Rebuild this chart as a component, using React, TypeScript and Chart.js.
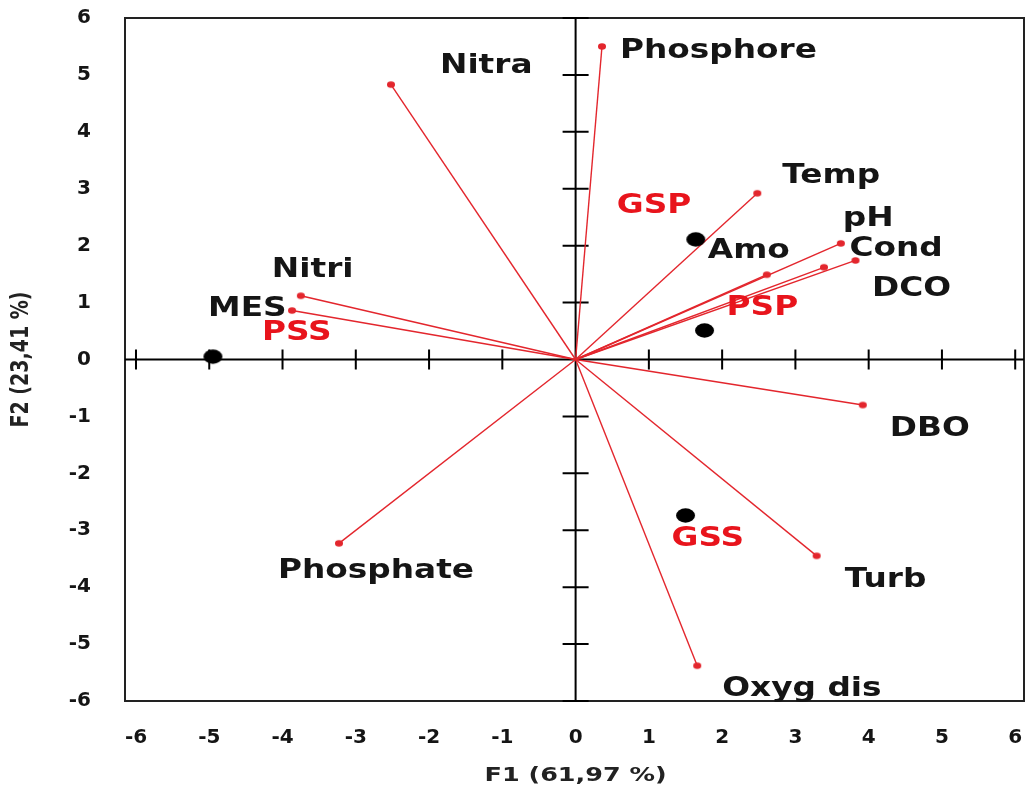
import { useEffect, useRef } from 'react';
import { Chart, registerables } from 'chart.js';

Chart.register(...registerables);

// Variable loadings on the first two factors
const variableNames = ['Phosphore', 'Nitra', 'Temp', 'pH', 'Cond', 'DCO', 'Amo', 'DBO', 'Turb', 'Oxyg dis', 'Phosphate', 'Nitri', 'MES'];
const variableF1 = [0.36, -2.52, 2.48, 3.62, 3.82, 3.39, 2.61, 3.92, 3.29, 1.66, -3.23, -3.75, -3.87];
const variableF2 = [5.5, 4.83, 2.92, 2.04, 1.74, 1.62, 1.49, -0.8, -3.45, -5.38, -3.23, 1.12, 0.86];
// Label placement relative to each arrow tip, in pixels (left edge, vertical centre)
const variableLabelOffsets: [number, number][] = [
  [18, 5], [49, -18], [25, -17], [2, -24], [-6, -11], [48, 22], [-59, -23],
  [27, 24], [28, 24], [25, 24], [-61, 28], [-29, -26], [-84, -1],
];

// Sampling sites projected on the factor plane
const siteNames = ['GSP', 'PSP', 'GSS', 'PSS'];
const siteF1 = [1.64, 1.76, 1.5, -4.95];
const siteF2 = [2.11, 0.51, -2.74, 0.05];
const siteLabelOffsets: [number, number][] = [[-79, -33], [22, -22], [-14, 24], [49, -23]];

const axisTicks = [-6, -5, -4, -3, -2, -1, 0, 1, 2, 3, 4, 5, 6];
const xTitle = 'F1 (61,97 %)';
const yTitle = 'F2 (23,41 %)';

const RED = '#e3262d';
const LABEL_RED = '#e8141c';
const INK = '#151515';
const TEXT_STRETCH = 1.26;

function ellipseSprite(rx: number, ry: number, color: string): HTMLCanvasElement {
  const c = document.createElement('canvas');
  c.width = Math.ceil(rx * 2) + 2;
  c.height = Math.ceil(ry * 2) + 2;
  const g = c.getContext('2d')!;
  g.fillStyle = color;
  g.beginPath();
  g.ellipse(c.width / 2, c.height / 2, rx, ry, 0, 0, Math.PI * 2);
  g.fill();
  return c;
}

const framePlugin = {
  id: 'pcaFrame',
  beforeDatasetsDraw(chart: any) {
    const { ctx, chartArea: a, scales } = chart;
    const x = scales.x;
    const y = scales.y;
    const x0 = x.getPixelForValue(0);
    const y0 = y.getPixelForValue(0);
    ctx.save();
    ctx.strokeStyle = '#222';
    ctx.lineWidth = 2;
    ctx.strokeRect(a.left, a.top, a.right - a.left, a.bottom - a.top);
    ctx.strokeStyle = '#000';
    ctx.beginPath();
    ctx.moveTo(a.left, y0);
    ctx.lineTo(a.right, y0);
    ctx.moveTo(x0, a.top);
    ctx.lineTo(x0, a.bottom);
    axisTicks.forEach((v) => {
      const px = x.getPixelForValue(v);
      ctx.moveTo(px, y0 - 10);
      ctx.lineTo(px, y0 + 10);
      const py = y.getPixelForValue(v);
      ctx.moveTo(x0 - 13, py);
      ctx.lineTo(x0 + 13, py);
    });
    ctx.stroke();
    ctx.restore();
  },
};

function drawStretched(ctx: CanvasRenderingContext2D, text: string, left: number, middle: number, color: string) {
  ctx.save();
  ctx.translate(left, middle);
  ctx.scale(TEXT_STRETCH, 1);
  ctx.fillStyle = color;
  ctx.fillText(text, 0, 0);
  ctx.restore();
}

const labelPlugin = {
  id: 'pcaLabels',
  afterDatasetsDraw(chart: any) {
    const { ctx, scales, chartArea: a } = chart;
    const x = scales.x;
    const y = scales.y;
    ctx.save();
    ctx.font = 'bold 26px "DejaVu Sans"';
    ctx.textAlign = 'left';
    ctx.textBaseline = 'middle';
    variableNames.forEach((name, i) => {
      const [dx, dy] = variableLabelOffsets[i];
      drawStretched(ctx, name, x.getPixelForValue(variableF1[i]) + dx, y.getPixelForValue(variableF2[i]) + dy, INK);
    });
    siteNames.forEach((name, i) => {
      const [dx, dy] = siteLabelOffsets[i];
      drawStretched(ctx, name, x.getPixelForValue(siteF1[i]) + dx, y.getPixelForValue(siteF2[i]) + dy, LABEL_RED);
    });

    // Axis titles, widened like the rest of the lettering
    ctx.font = 'bold 19px "DejaVu Sans"';
    ctx.fillStyle = '#222';
    ctx.textAlign = 'center';
    ctx.save();
    ctx.translate(x.getPixelForValue(0), a.bottom + 75);
    ctx.scale(1.34, 1);
    ctx.fillText(xTitle, 0, 0);
    ctx.restore();
    ctx.save();
    ctx.translate(22, y.getPixelForValue(0));
    ctx.rotate(-Math.PI / 2);
    ctx.scale(1, 1.3);
    ctx.fillText(yTitle, 0, 0);
    ctx.restore();
    ctx.restore();
  },
};

export default function App() {
  const canvasRef = useRef<HTMLCanvasElement | null>(null);

  useEffect(() => {
    if (!canvasRef.current) return;
    const tipDot = ellipseSprite(4, 3.3, RED);
    const siteDot = ellipseSprite(9.5, 7.2, '#000');

    const vectorSets = variableNames.map((name, i) => ({
      label: name,
      data: [
        { x: 0, y: 0 },
        { x: variableF1[i], y: variableF2[i] },
      ],
      showLine: true,
      borderColor: RED,
      borderWidth: 1.4,
      backgroundColor: RED,
      pointStyle: [false, tipDot] as any,
      pointRadius: [0, 4],
      order: 2,
    }));

    const siteSet = {
      label: 'Sites',
      data: siteF1.map((v, i) => ({ x: v, y: siteF2[i] })),
      showLine: false,
      pointStyle: siteDot as any,
      pointRadius: 9,
      backgroundColor: '#000',
      borderColor: '#000',
      order: 1,
    };

    const tickFont = { family: '"DejaVu Sans"', size: 20, weight: 'bold' as const };

    const chart = new Chart(canvasRef.current, {
      type: 'scatter',
      data: { datasets: [...vectorSets, siteSet] as any },
      options: {
        responsive: false,
        animation: false,
        events: [],
        layout: { autoPadding: false, padding: { top: 18, right: 5, left: 0, bottom: 0 } },
        plugins: { legend: { display: false }, tooltip: { enabled: false } },
        scales: {
          x: {
            type: 'linear',
            min: -6.15,
            max: 6.12,
            grid: { display: false, drawTicks: false },
            border: { display: false },
            afterBuildTicks: (scale: any) => {
              scale.ticks = axisTicks.map((v) => ({ value: v }));
            },
            afterFit: (scale: any) => {
              scale.height = 95;
              scale.paddingLeft = 0;
              scale.paddingRight = 0;
            },
            ticks: { font: tickFont, color: INK, padding: 25, maxRotation: 0, autoSkip: false },
            title: { display: false, text: xTitle },
          },
          y: {
            type: 'linear',
            min: -6,
            max: 6,
            grid: { display: false, drawTicks: false },
            border: { display: false },
            afterBuildTicks: (scale: any) => {
              scale.ticks = axisTicks.map((v) => ({ value: v }));
            },
            afterFit: (scale: any) => {
              scale.width = 125;
              scale.paddingTop = 0;
              scale.paddingBottom = 0;
            },
            ticks: { font: tickFont, color: INK, padding: 34, autoSkip: false },
            title: { display: false, text: yTitle },
          },
        },
      },
      plugins: [framePlugin, labelPlugin],
    });

    return () => chart.destroy();
  }, []);

  return (
    <div style={{ position: 'absolute', left: 0, top: 0, width: 1029, height: 796, background: '#fff' }}>
      <canvas ref={canvasRef} width={1029} height={796} />
    </div>
  );
}
